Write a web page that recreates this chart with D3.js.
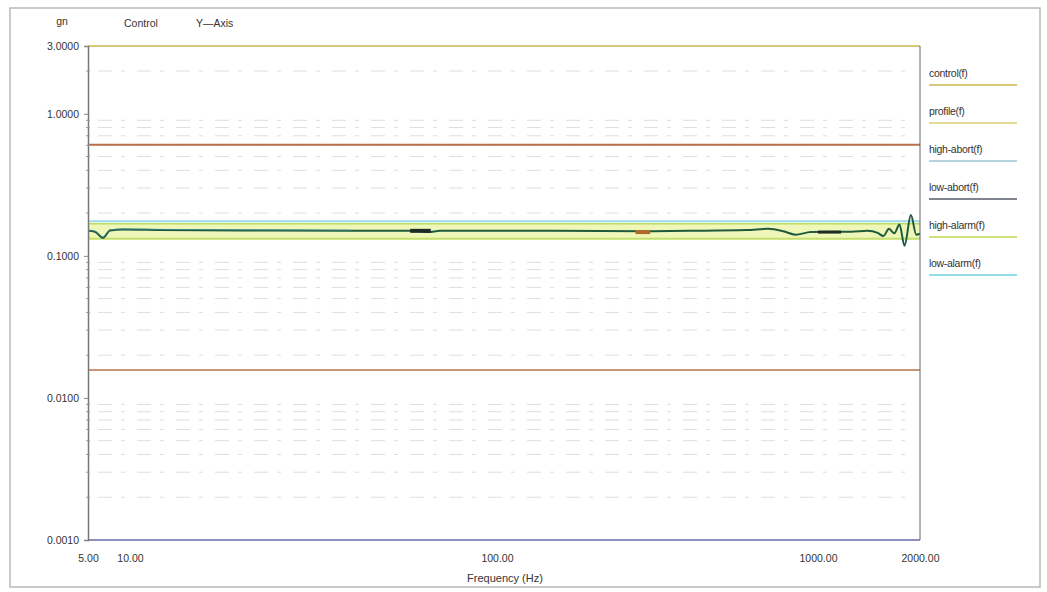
<!DOCTYPE html>
<html><head><meta charset="utf-8">
<script src="https://cdn.jsdelivr.net/npm/d3@7"></script>
<style>body{margin:0;background:#fff}svg{display:block}text{font-family:"Liberation Sans",Arial,sans-serif;fill:#333}</style>
</head><body><svg id="c" width="1047" height="592"></svg>
<script>
// ---- data ----
const xTickValues = [5, 10, 100, 1000, 2000];
const xTickLabels = ["5.00", "10.00", "100.00", "1000.00", "2000.00"];
const yTickValues = [3, 1, 0.1, 0.01, 0.001];
const yTickLabels = ["3.0000", "1.0000", "0.1000", "0.0100", "0.0010"];
const highAbort = 0.605;
const lowAbort = 0.0157;
const upperBand = 0.175;
const highAlarm = 0.168;
const lowAlarm = 0.132;
const controlFreq = [5, 5.6, 6.4, 7.2, 9, 12, 20, 40, 60, 65, 70, 150, 290, 400, 600, 700, 780, 850, 950, 1100, 1250, 1400, 1500, 1560, 1620, 1680, 1740, 1800, 1880, 1950, 2000];
const controlVal  = [0.150, 0.148, 0.134, 0.151, 0.153, 0.152, 0.151, 0.150, 0.150, 0.147, 0.150, 0.150, 0.149, 0.150, 0.152, 0.155, 0.149, 0.141, 0.147, 0.148, 0.148, 0.150, 0.145, 0.138, 0.155, 0.144, 0.166, 0.118, 0.194, 0.141, 0.143];
const blobFreq = [[58, 66], [270, 300], [1000, 1170]];
const blobVal = [0.150, 0.147, 0.147];
const legendLabels = ["control(f)", "profile(f)", "high-abort(f)", "low-abort(f)", "high-alarm(f)", "low-alarm(f)"];
const legendColors = ["#c9b64a", "#d8d070", "#9fc4d8", "#555a66", "#b8d84a", "#6fd0e6"];

// ---- layout ----
const svg = d3.select("#c");
const L = 88, R = 920, T = 46, B = 540;
const x = d3.scaleLog().domain([5, 10, 100, 1000, 2000]).range([L, 130, 497, 818, R]);
const y = d3.scaleLog().domain([3, 0.001]).range([T, B]);

// outer frame
svg.append("rect").attr("x", 10).attr("y", 8).attr("width", 1030).attr("height", 579)
  .attr("fill", "none").attr("stroke", "#b8b8b8").attr("stroke-width", 1.5);

// minor gridlines
const minor = [];
for (let e = -3; e <= 0; e++) for (let k = 2; k <= 9; k++) { const v = k * Math.pow(10, e); if (v < 3) minor.push(v); }
svg.append("g").selectAll("line").data(minor).join("line")
  .attr("x1", L + 10).attr("x2", R - 10).attr("y1", d => y(d)).attr("y2", d => y(d))
  .attr("stroke", "#dedede").attr("stroke-width", 1).attr("stroke-dasharray", "14,9,4,12");

// band fill
svg.append("rect").attr("x", L).attr("width", R - L)
  .attr("y", y(highAlarm)).attr("height", y(lowAlarm) - y(highAlarm))
  .attr("fill", "#eef7b8");
const hline = (v, c, w) => svg.append("line").attr("x1", L).attr("x2", R)
  .attr("y1", y(v)).attr("y2", y(v)).attr("stroke", c).attr("stroke-width", w);
hline(upperBand, "#9fd8ea", 2);
hline(highAlarm, "#b9dc5a", 1.5);
hline(lowAlarm, "#c4e06a", 2);
hline(highAbort, "#b9704a", 2);
hline(lowAbort, "#b9704a", 1.5);

// control trace
const line = d3.line().x(d => x(d[0])).y(d => y(d[1])).curve(d3.curveMonotoneX);
svg.append("path").datum(controlFreq.map((f, i) => [f, controlVal[i]]))
  .attr("d", line).attr("fill", "none").attr("stroke", "#1f5a3c").attr("stroke-width", 2);
svg.append("path").datum(controlFreq.slice(0, 8).map((f, i) => [f, controlVal[i] * 1.01]))
  .attr("d", line).attr("fill", "none").attr("stroke", "#3a8aa0").attr("stroke-width", 1).attr("opacity", 0.7);
// blobs
svg.append("g").selectAll("line").data(blobFreq).join("line")
  .attr("x1", d => x(d[0])).attr("x2", d => x(d[1]))
  .attr("y1", (d, i) => y(blobVal[i])).attr("y2", (d, i) => y(blobVal[i]))
  .attr("stroke", (d, i) => i === 1 ? "#b06a2a" : "#1d2a26").attr("stroke-width", (d, i) => i === 2 ? 3 : 4);

// plot frame
svg.append("line").attr("x1", L).attr("x2", R).attr("y1", T).attr("y2", T).attr("stroke", "#c8b84e").attr("stroke-width", 1.5);
svg.append("line").attr("x1", L).attr("x2", R).attr("y1", B).attr("y2", B).attr("stroke", "#6a6aa8").attr("stroke-width", 1.5);
svg.append("line").attr("x1", R).attr("x2", R).attr("y1", T).attr("y2", B).attr("stroke", "#666").attr("stroke-width", 1);

// y axis
const yAxis = d3.axisLeft(y).tickValues(yTickValues).tickFormat((d, i) => yTickLabels[i]).tickSize(4);
const gy = svg.append("g").attr("transform", `translate(${L},0)`).call(yAxis);
gy.select(".domain").attr("stroke", "#777").attr("stroke-width", 1.5);
gy.selectAll(".tick line").attr("stroke", "#888");
gy.selectAll(".tick text").attr("x", -9).style("font-size", "10.5px").style("fill", "#333");
svg.append("g").selectAll("line").data(minor).join("line")
  .attr("x1", L - 2).attr("x2", L + 2).attr("y1", d => y(d)).attr("y2", d => y(d)).attr("stroke", "#999");

// x axis
const xAxis = d3.axisBottom(x).tickValues(xTickValues).tickFormat((d, i) => xTickLabels[i]).tickSize(0);
const gx = svg.append("g").attr("transform", `translate(0,${B})`).call(xAxis);
gx.select(".domain").remove();
gx.selectAll(".tick text").attr("dy", "1.1em").attr("y", 10).style("font-size", "10.5px").style("fill", "#333");

// texts
svg.append("text").attr("x", 62).attr("y", 25).attr("text-anchor", "middle").style("font-size", "10.5px").text("gn");
svg.append("text").attr("x", 124).attr("y", 27).style("font-size", "10.5px").text("Control");
svg.append("text").attr("x", 196).attr("y", 27).style("font-size", "10.5px").text("Y\u2014Axis");
svg.append("text").attr("x", 505).attr("y", 582).attr("text-anchor", "middle").style("font-size", "11px").text("Frequency (Hz)");

// legend
const lg = svg.append("g").selectAll("g").data(legendLabels).join("g")
  .attr("transform", (d, i) => `translate(929,${77 + i * 38})`);
lg.append("text").attr("y", 0).style("font-size", "10.5px").style("letter-spacing", "-0.3px").text(d => d);
lg.append("line").attr("x1", 0).attr("x2", 88).attr("y1", 8).attr("y2", 8)
  .attr("stroke", (d, i) => legendColors[i]).attr("stroke-width", 1.5);
</script></body></html>
